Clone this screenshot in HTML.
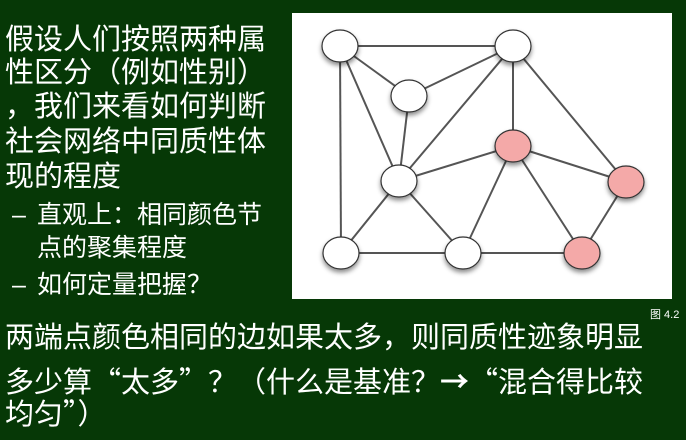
<!DOCTYPE html>
<html><head><meta charset="utf-8"><style>
body{margin:0;width:686px;height:440px;background:#063806;overflow:hidden;position:relative;font-family:"Liberation Sans","Noto Sans CJK SC",sans-serif;color:#fff}
.t{position:absolute;left:5px;font-size:29px;line-height:34px;white-space:nowrap}
.s{position:absolute;font-size:25px;line-height:30px;white-space:nowrap}
.c{font-family:"Noto Sans CJK SC",sans-serif}
</style></head><body>
<div class="t" style="top:23px">假设人们按照两种属</div>
<div class="t" style="top:56px">性区分（例如性别）</div>
<div class="t" style="top:90px">，我们来看如何判断</div>
<div class="t" style="top:125px">社会网络中同质性体</div>
<div class="t" style="top:160px">现的程度</div>
<div class="s" style="left:12px;top:200px">–</div>
<div class="s" style="left:37px;top:200px">直观上：相同颜色节</div>
<div class="s" style="left:37px;top:233px">点的聚集程度</div>
<div class="s" style="left:12px;top:270px">–</div>
<div class="s" style="left:37px;top:270px">如何定量把握？</div>
<div class="t" style="top:321px">两端点颜色相同的边如果太多，则同质性迹象明显</div>
<div class="t c" style="top:363px">多少算“太多”？（什么是基准？<b>→</b>“混合得比较</div>
<div class="t c" style="top:395px">均匀”）</div>
<div style="position:absolute;left:650px;top:306px;font-size:11px">图 4.2</div>
<svg style="position:absolute;left:0;top:0" width="686" height="440">
<defs><filter id="sh" x="-50%" y="-50%" width="200%" height="200%"><feDropShadow dx="0" dy="3" stdDeviation="2.5" flood-color="#000" flood-opacity="0.45"/></filter></defs>
<rect x="292" y="13" width="380" height="286" fill="#fff"/>
<g stroke="#555" stroke-width="2">
<line x1="340" y1="46" x2="513" y2="46"/><line x1="340" y1="46" x2="409" y2="96"/>
<line x1="340" y1="46" x2="399" y2="181"/><line x1="340" y1="46" x2="341" y2="253"/>
<line x1="409" y1="96" x2="513" y2="46"/><line x1="409" y1="96" x2="399" y2="181"/>
<line x1="513" y1="46" x2="399" y2="181"/><line x1="513" y1="46" x2="513" y2="146"/>
<line x1="513" y1="46" x2="626" y2="182"/><line x1="513" y1="146" x2="399" y2="181"/>
<line x1="513" y1="146" x2="626" y2="182"/><line x1="513" y1="146" x2="463" y2="253"/>
<line x1="513" y1="146" x2="582" y2="253"/><line x1="399" y1="181" x2="341" y2="253"/>
<line x1="399" y1="181" x2="463" y2="253"/><line x1="341" y1="253" x2="463" y2="253"/>
<line x1="463" y1="253" x2="582" y2="253"/><line x1="582" y1="253" x2="626" y2="182"/>
</g>
<g stroke="#333" stroke-width="1.2" filter="url(#sh)">
<ellipse cx="340" cy="46" rx="18" ry="16" fill="#fff"/>
<ellipse cx="513" cy="46" rx="18" ry="16" fill="#fff"/>
<ellipse cx="409" cy="96" rx="18" ry="16" fill="#fff"/>
<ellipse cx="513" cy="146" rx="18" ry="16" fill="#f4a9a8"/>
<ellipse cx="399" cy="181" rx="18" ry="16" fill="#fff"/>
<ellipse cx="626" cy="182" rx="18" ry="16" fill="#f4a9a8"/>
<ellipse cx="341" cy="253" rx="18" ry="16" fill="#fff"/>
<ellipse cx="463" cy="253" rx="18" ry="16" fill="#fff"/>
<ellipse cx="582" cy="253" rx="18" ry="16" fill="#f4a9a8"/>
</g>
</svg>
</body></html>
